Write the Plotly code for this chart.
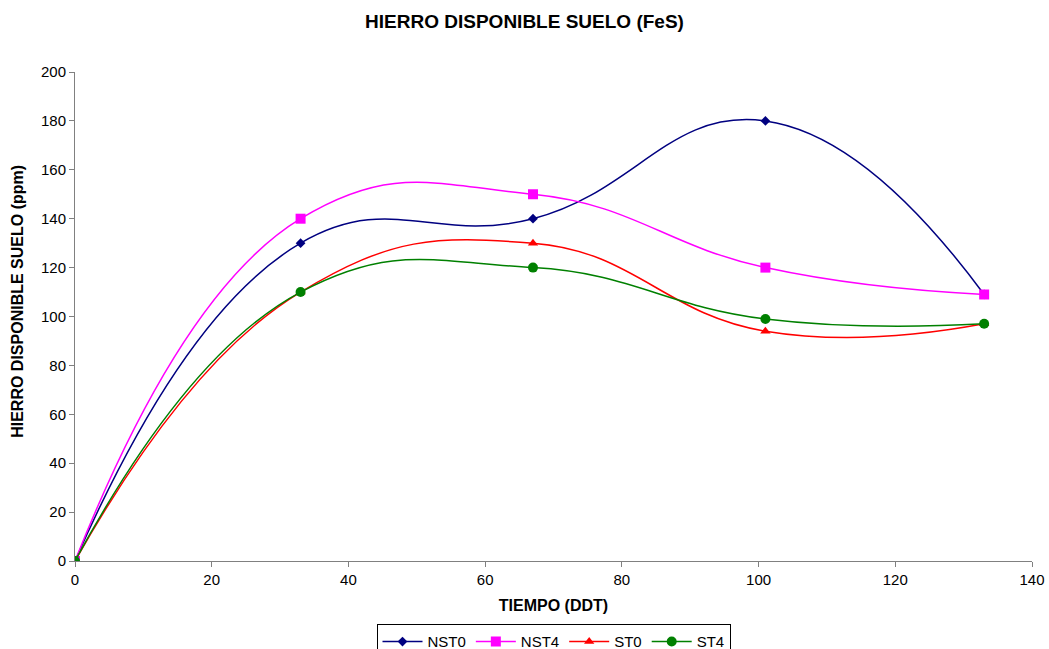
import plotly.graph_objects as go

x_ddt = [0, 33, 67, 101, 133]
nst0 = [0, 130, 140, 180, 109]
nst4 = [0, 140, 150, 120, 109]
st0 = [0, 110, 130, 94, 97]
st4 = [0, 110, 120, 99, 97]

series = [
    ("NST0", nst0, "#000080", "diamond", 7.5),
    ("NST4", nst4, "#FF00FF", "square", 10),
    ("ST0", st0, "#FF0000", "triangle-up", 9),
    ("ST4", st4, "#008000", "circle", 10),
]

fig = go.Figure()
for name, ys, color, sym, sz in series:
    fig.add_trace(go.Scatter(
        x=x_ddt, y=ys, name=name, mode="lines+markers",
        line=dict(color=color, width=1.5, shape="spline", smoothing=1.3),
        marker=dict(symbol=sym, size=sz, color=color),
    ))

font_family = "Liberation Sans, Arial, sans-serif"
fig.update_layout(
    width=1049, height=649,
    margin=dict(l=75, r=17, t=72, b=88),
    paper_bgcolor="white", plot_bgcolor="white",
    font=dict(family=font_family, size=15, color="black"),
    title=dict(text="<b>HIERRO DISPONIBLE SUELO (FeS)</b>", x=0.5, xanchor="center",
               y=0.978, yanchor="top", font=dict(size=19)),
    xaxis=dict(range=[0, 140], tick0=0, dtick=20, showgrid=False, zeroline=False,
               showline=True, linecolor="#808080", linewidth=1, automargin=False,
               ticks="outside", ticklen=5, tickcolor="#808080",
               title=dict(text="<b>TIEMPO (DDT)</b>", font=dict(size=16), standoff=12)),
    yaxis=dict(range=[0, 200], tick0=0, dtick=20, showgrid=False, zeroline=False,
               showline=True, linecolor="#808080", linewidth=1, automargin=False,
               ticks="outside", ticklen=5, tickcolor="#808080"),
    annotations=[dict(text="<b>HIERRO DISPONIBLE SUELO (ppm)</b>", textangle=-90,
                      xref="paper", yref="paper", x=-0.0596, y=0.532,
                      xanchor="center", yanchor="middle", showarrow=False,
                      font=dict(size=16))],
    legend=dict(orientation="h", x=0.5, xanchor="center", xref="paper",
                y=0.038, yanchor="top", yref="container",
                bordercolor="black", borderwidth=1, font=dict(size=15),
                itemwidth=40, tracegroupgap=0),
    showlegend=True,
)
fig.write_html("out.html")
